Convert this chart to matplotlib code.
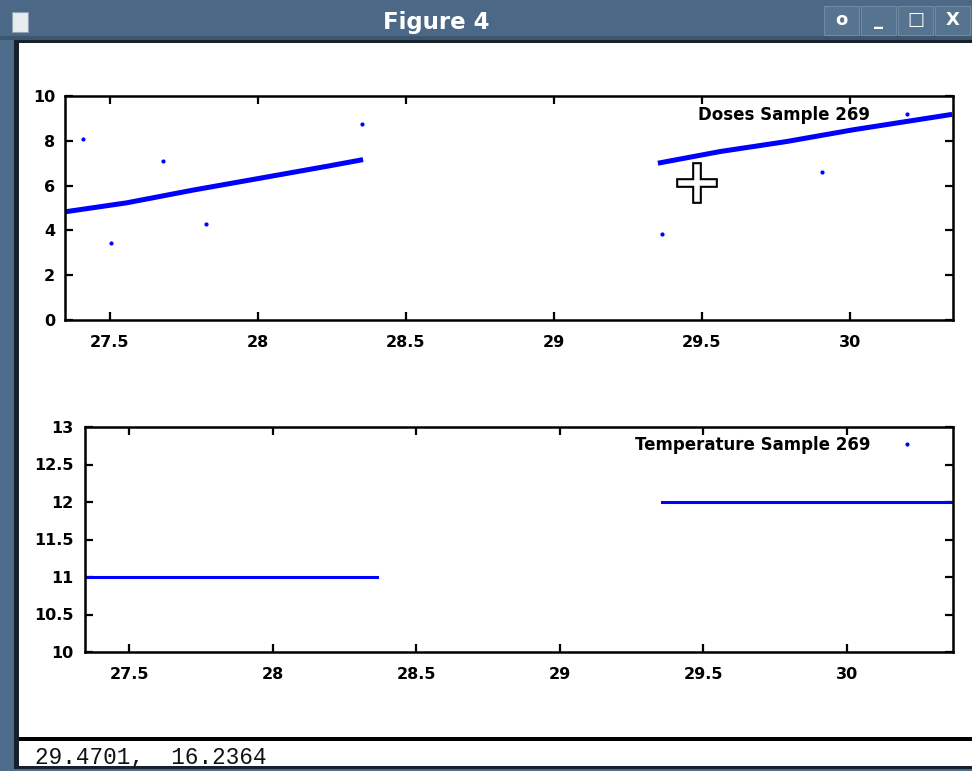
import matplotlib
matplotlib.use("Agg")
import matplotlib.pyplot as plt
from matplotlib.patches import Rectangle
from matplotlib.lines import Line2D

# data
dose_x1 = [27.348, 27.556, 27.781, 28.007, 28.232, 28.355]
dose_y1 = [4.83, 5.23, 5.80, 6.33, 6.86, 7.16]
dose_x2 = [29.351, 29.561, 29.787, 30.010, 30.345]
dose_y2 = [7.00, 7.52, 7.97, 8.49, 9.18]
dose_out_x = [27.409, 27.503, 27.679, 27.824, 28.351, 29.365, 29.905]
dose_out_y = [8.10, 3.44, 7.12, 4.28, 8.77, 3.84, 6.59]

temp_x1 = [27.345, 28.362]
temp_y1 = [11, 11]
temp_x2 = [29.357, 30.370]
temp_y2 = [12, 12]

dose_xticks = [27.5, 28, 28.5, 29, 29.5, 30]
dose_yticks = [0, 2, 4, 6, 8, 10]
temp_yticks = [10, 10.5, 11, 11.5, 12, 12.5, 13]

W, H = 972, 771
BLUE = "#0000ff"


def px(x0, y0, x1, y1):
    # pixel box -> figure fraction rect
    return [x0 / W, 1 - y1 / H, (x1 - x0) / W, (y1 - y0) / H]


def box(fig, x0, y0, x1, y1, color, **kw):
    l, b, w, h = px(x0, y0, x1, y1)
    fig.add_artist(Rectangle((l, b), w, h, transform=fig.transFigure, facecolor=color,
                             zorder=-5, **kw))


fig = plt.figure(figsize=(W / 100, H / 100), dpi=100)

# window frame
box(fig, 0, 0, W, H, "#4e6c8b", linewidth=0)
box(fig, 14, 40, W, 769, "#17212b", linewidth=0)
box(fig, 19, 43, W, 766, "white", linewidth=0)
box(fig, 19, 737, W, 741, "black", linewidth=0)
box(fig, 0, 0, W, 40, "#4b6987", linewidth=0)
box(fig, 0, 36, W, 40, "#3c566f", linewidth=0)
box(fig, 12, 12, 28, 32, "#e8ecee", linewidth=0.8, edgecolor="#8ea2b4")
fig.text(436 / W, 1 - 22 / H, "Figure 4", color="white", fontsize=16.5, fontweight="bold",
         ha="center", va="center")
for i, glyph in enumerate(["o", "_", "\u25a1", "X"]):
    bx = 824 + i * 37
    box(fig, bx, 6, bx + 35, 35, "#56738f", linewidth=0.8, edgecolor="#6f8aa3")
    fig.text((bx + 17.5) / W, 1 - 20 / H, glyph, color="white", fontsize=13, fontweight="bold",
             ha="center", va="center")
fig.text(35 / W, 1 - 758 / H, "29.4701,  16.2364", family="Liberation Mono", fontsize=16.3,
         ha="left", va="center", color="#111111")

tick_kw = dict(direction="in", length=6, width=1.6, top=True, right=True, labelsize=11.5)

# doses
ax1 = fig.add_axes(px(65, 96, 953, 320))
ax1.plot(dose_x1, dose_y1, color=BLUE, lw=3.6, solid_capstyle="butt")
ax1.plot(dose_x2, dose_y2, color=BLUE, lw=3.6, solid_capstyle="butt")
ax1.plot(dose_out_x, dose_out_y, ls="none", marker="o", ms=2, color=BLUE)
ax1.set_xlim(27.348, 30.348)
ax1.set_ylim(0, 10)
ax1.set_xticks(dose_xticks)
ax1.set_xticklabels([f"{t:g}" for t in dose_xticks])
ax1.set_yticks(dose_yticks)
ax1.tick_params(axis="x", pad=11, **tick_kw)
ax1.tick_params(axis="y", pad=7, **tick_kw)
dose_key = Line2D([], [], ls="none", marker="o", ms=2, color=BLUE)
ax1.legend([dose_key], ["Doses Sample 269"], loc="upper right", bbox_to_anchor=(0.967, 0.955),
           frameon=False, markerfirst=False, handlelength=2, handletextpad=1.2,
           borderaxespad=0, borderpad=0, prop={"weight": "bold", "size": 12})

# temperature
ax2 = fig.add_axes(px(85, 427, 953, 652))
ax2.plot(temp_x1, temp_y1, color=BLUE, lw=2.2)
ax2.plot(temp_x2, temp_y2, color=BLUE, lw=2.2)
ax2.set_xlim(27.345, 30.370)
ax2.set_ylim(10, 13)
ax2.set_xticks(dose_xticks)
ax2.set_xticklabels([f"{t:g}" for t in dose_xticks])
ax2.set_yticks(temp_yticks)
ax2.set_yticklabels([f"{t:g}" for t in temp_yticks])
ax2.tick_params(axis="x", pad=11, **tick_kw)
ax2.tick_params(axis="y", pad=8, **tick_kw)
temp_key = Line2D([], [], ls="none", marker="o", ms=2, color=BLUE)
ax2.legend([temp_key], ["Temperature Sample 269"], loc="upper right", bbox_to_anchor=(0.966, 0.96),
           frameon=False, markerfirst=False, handlelength=2, handletextpad=1.2,
           borderaxespad=0, borderpad=0, prop={"weight": "bold", "size": 12})

for ax in (ax1, ax2):
    ax.set_facecolor("none")
    for s in ax.spines.values():
        s.set_linewidth(1.8)
    for lab in ax.get_xticklabels() + ax.get_yticklabels():
        lab.set_fontweight("bold")

# mouse cursor over the top plot
cx, cy = 697, 183
for col, lw in (("black", 7), ("white", 4)):
    fig.add_artist(Line2D([(cx - 16) / W, (cx + 16) / W], [1 - cy / H, 1 - cy / H],
                          transform=fig.transFigure, color=col, lw=lw, zorder=10))
    fig.add_artist(Line2D([cx / W, cx / W], [1 - (cy - 16) / H, 1 - (cy + 16) / H],
                          transform=fig.transFigure, color=col, lw=lw, zorder=10))

fig.savefig("out.png", dpi=100)
